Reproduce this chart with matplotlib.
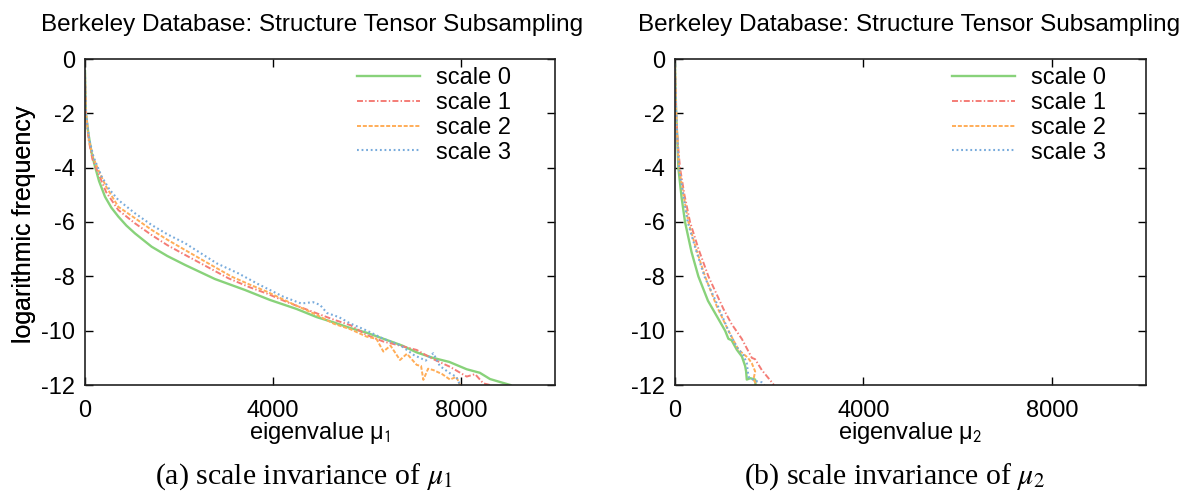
import matplotlib
matplotlib.use("Agg")
import matplotlib.pyplot as plt

plt.rcParams['font.family'] = ['Liberation Sans', 'DejaVu Sans']
plt.rcParams['mathtext.fontset'] = 'stix'
plt.rcParams['axes.unicode_minus'] = False
plt.rcParams['lines.scale_dashes'] = False

# ---------------- data ----------------
series_labels = ["scale 0", "scale 1", "scale 2", "scale 3"]
x_ticks = [0, 4000, 8000]
y_ticks = [-12, -10, -8, -6, -4, -2, 0]

# panel (a): eigenvalue mu_1
a0_x = [0, 5, 20, 71, 140, 213, 300, 426, 560, 709, 880, 1064, 1418, 1750, 2128, 2766, 3400, 3936,
        4500, 4929, 5300, 5638, 6000, 6400, 6750, 7057, 7400, 7750, 8121, 8400, 8617, 8850, 9050]
a0_y = [-0.45, -1.0, -2.0, -2.74, -3.45, -3.96, -4.5, -5.07, -5.47, -5.8, -6.13, -6.42, -6.91, -7.25,
        -7.58, -8.1, -8.5, -8.87, -9.2, -9.5, -9.7, -9.9, -10.08, -10.33, -10.55, -10.8, -11.0, -11.15,
        -11.42, -11.55, -11.78, -11.9, -12.0]

a1_x = [0, 5, 20, 80, 160, 284, 450, 709, 1064, 1418, 1750, 2128, 2600, 3050, 3500, 3865, 4300, 4929,
        5300, 5650, 5993, 6348, 6702, 7057, 7411, 7766, 8121, 8300, 8475, 8620]
a1_y = [-0.5, -1.0, -2.0, -3.0, -3.7, -4.21, -4.9, -5.56, -6.05, -6.48, -6.85, -7.21, -7.65, -8.07,
        -8.4, -8.63, -8.95, -9.36, -9.6, -9.8, -10.16, -10.4, -10.55, -10.71, -11.05, -11.33, -11.69,
        -11.6, -11.94, -12.0]

a2_x = [0, 5, 20, 80, 170, 300, 450, 709, 1064, 1418, 1750, 2128, 2600, 3120, 3500, 3865, 4400, 4929,
        5300, 5650, 5993, 6200, 6348, 6500, 6702, 6850, 7057, 7150, 7199, 7300, 7411, 7600, 7766, 7900, 7980]
a2_y = [-0.5, -1.0, -2.0, -2.95, -3.6, -4.15, -4.7, -5.44, -5.86, -6.29, -6.65, -7.03, -7.5, -8.01,
        -8.3, -8.56, -9.0, -9.42, -9.75, -9.95, -10.22, -10.3, -10.77, -10.55, -11.08, -10.85, -11.26,
        -11.3, -11.81, -11.4, -11.45, -11.6, -11.8, -11.7, -12.0]

a3_x = [0, 5, 20, 90, 180, 355, 520, 709, 1064, 1418, 1750, 2128, 2801, 3262, 3700, 4220, 4600, 4850,
        5000, 5150, 5400, 5638, 6000, 6350, 6702, 7000, 7250, 7411, 7550, 7766, 7900, 7980]
a3_y = [-0.5, -1.0, -2.0, -2.95, -3.6, -4.33, -4.8, -5.19, -5.68, -6.11, -6.45, -6.78, -7.52, -7.89,
        -8.3, -8.75, -9.0, -8.95, -9.05, -9.35, -9.5, -9.73, -10.0, -10.3, -10.53, -10.9, -11.1, -10.83,
        -11.3, -11.57, -11.7, -12.0]

# panel (b): eigenvalue mu_2
b0_x = [0, 10, 25, 50, 71, 140, 213, 350, 496, 700, 922, 1064, 1134, 1200, 1312, 1420, 1489, 1510,
        1524, 1600, 1702, 1710]
b0_y = [-0.2, -1.0, -2.0, -3.0, -4.0, -5.1, -6.0, -7.1, -8.0, -8.9, -9.57, -10.0, -10.3, -10.35,
        -10.7, -10.95, -11.3, -11.5, -11.8, -11.75, -11.8, -12.0]

b1_x = [0, 10, 25, 55, 106, 200, 319, 500, 709, 1028, 1200, 1418, 1631, 1700, 1843, 2056, 2100]
b1_y = [-0.2, -1.0, -2.0, -3.0, -4.0, -5.0, -6.0, -7.0, -8.0, -9.2, -9.75, -10.3, -11.0, -11.05,
        -11.45, -11.9, -12.0]

b2_x = [0, 10, 25, 52, 85, 180, 284, 450, 638, 886, 1134, 1347, 1550, 1631, 1702, 1666, 1737]
b2_y = [-0.2, -1.0, -2.0, -3.0, -4.0, -5.0, -6.0, -7.0, -8.0, -9.1, -10.0, -10.7, -11.0, -11.2,
        -11.5, -11.8, -12.0]

b3_x = [0, 10, 25, 52, 85, 175, 269, 440, 624, 851, 1134, 1312, 1450, 1524, 1560, 1700, 1843, 1900]
b3_y = [-0.2, -1.0, -2.0, -3.0, -4.0, -5.0, -6.0, -7.0, -8.0, -8.85, -10.0, -10.6, -10.9, -11.2,
        -11.7, -11.85, -11.9, -12.0]

panel_a = [(a0_x, a0_y), (a1_x, a1_y), (a2_x, a2_y), (a3_x, a3_y)]
panel_b = [(b0_x, b0_y), (b1_x, b1_y), (b2_x, b2_y), (b3_x, b3_y)]

title_text = "Berkeley Database: Structure Tensor Subsampling"
ylabel_text = "logarithmic frequency"
xlabels = ["eigenvalue \u03bc$_\\mathsf{1}$", "eigenvalue \u03bc$_\\mathsf{2}$"]
captions = ["(a) scale invariance of $\\mu_1$", "(b) scale invariance of $\\mu_2$"]

# ---------------- style ----------------
colors = ["#88d27a", "#f47c76", "#ffad58", "#78abdc"]
widths = [1.7, 1.4, 1.4, 1.5]
dashes = [None, (4.3, 1.6, 1.0, 1.6), (2.9, 1.3), (1.3, 2.0)]

FS = 17
fig = plt.figure(figsize=(11.85, 5.01), dpi=100)
W, H = 1185, 501
axes_px = [(85, 59, 555, 385), (675, 59, 1146, 385)]
legend_px = [357, 952]
caption_x = [304, 895]
title_x = [312, 909]

for idx, (panel, (l, t, r, b)) in enumerate(zip([panel_a, panel_b], axes_px)):
    ax = fig.add_axes([l / W, 1 - b / H, (r - l) / W, (b - t) / H])
    for k, (xs, ys) in enumerate(panel):
        line, = ax.plot(xs, ys, color=colors[k], lw=widths[k], label=series_labels[k],
                        solid_joinstyle='round')
        if dashes[k] is not None:
            line.set_dashes(dashes[k])
    ax.set_xlim(0, 10000)
    ax.set_ylim(-12, 0)
    ax.set_xticks(x_ticks)
    ax.set_yticks(y_ticks)
    ax.set_xticklabels([str(v) for v in x_ticks])
    ax.set_yticklabels([str(v) for v in y_ticks])
    ax.tick_params(direction='in', top=True, right=True, length=5.5, width=1.0,
                   labelsize=FS, colors='black')
    ax.tick_params(axis='x', pad=11)
    ax.tick_params(axis='y', pad=7)
    for s in ax.spines.values():
        s.set_linewidth(1.2)
        s.set_color('#222222')
    ax.set_title(title_text, fontsize=17.5, pad=20, x=(title_x[idx] - l) / (r - l))
    ax.set_ylabel(ylabel_text, fontsize=18)
    ax.yaxis.label.set_va('center')
    ax.yaxis.set_label_coords((24 - l) / (r - l), (b - 224) / (b - t))
    ax.set_xlabel(xlabels[idx], fontsize=FS)
    ax.xaxis.label.set_va('center')
    ax.xaxis.set_label_coords(0.5, (b - 433) / (b - t))
    ax.legend(loc='upper left', bbox_to_anchor=((legend_px[idx] - l) / (r - l), 0.975),
              frameon=False, fontsize=FS, handlelength=2.65, handletextpad=0.7,
              labelspacing=0.12, borderpad=0, borderaxespad=0)
    fig.text(caption_x[idx] / W, 1 - 477 / H, captions[idx], ha='center', va='center',
             fontsize=21.5, family=['Liberation Serif', 'DejaVu Serif'])

fig.savefig("out.png", dpi=100)
